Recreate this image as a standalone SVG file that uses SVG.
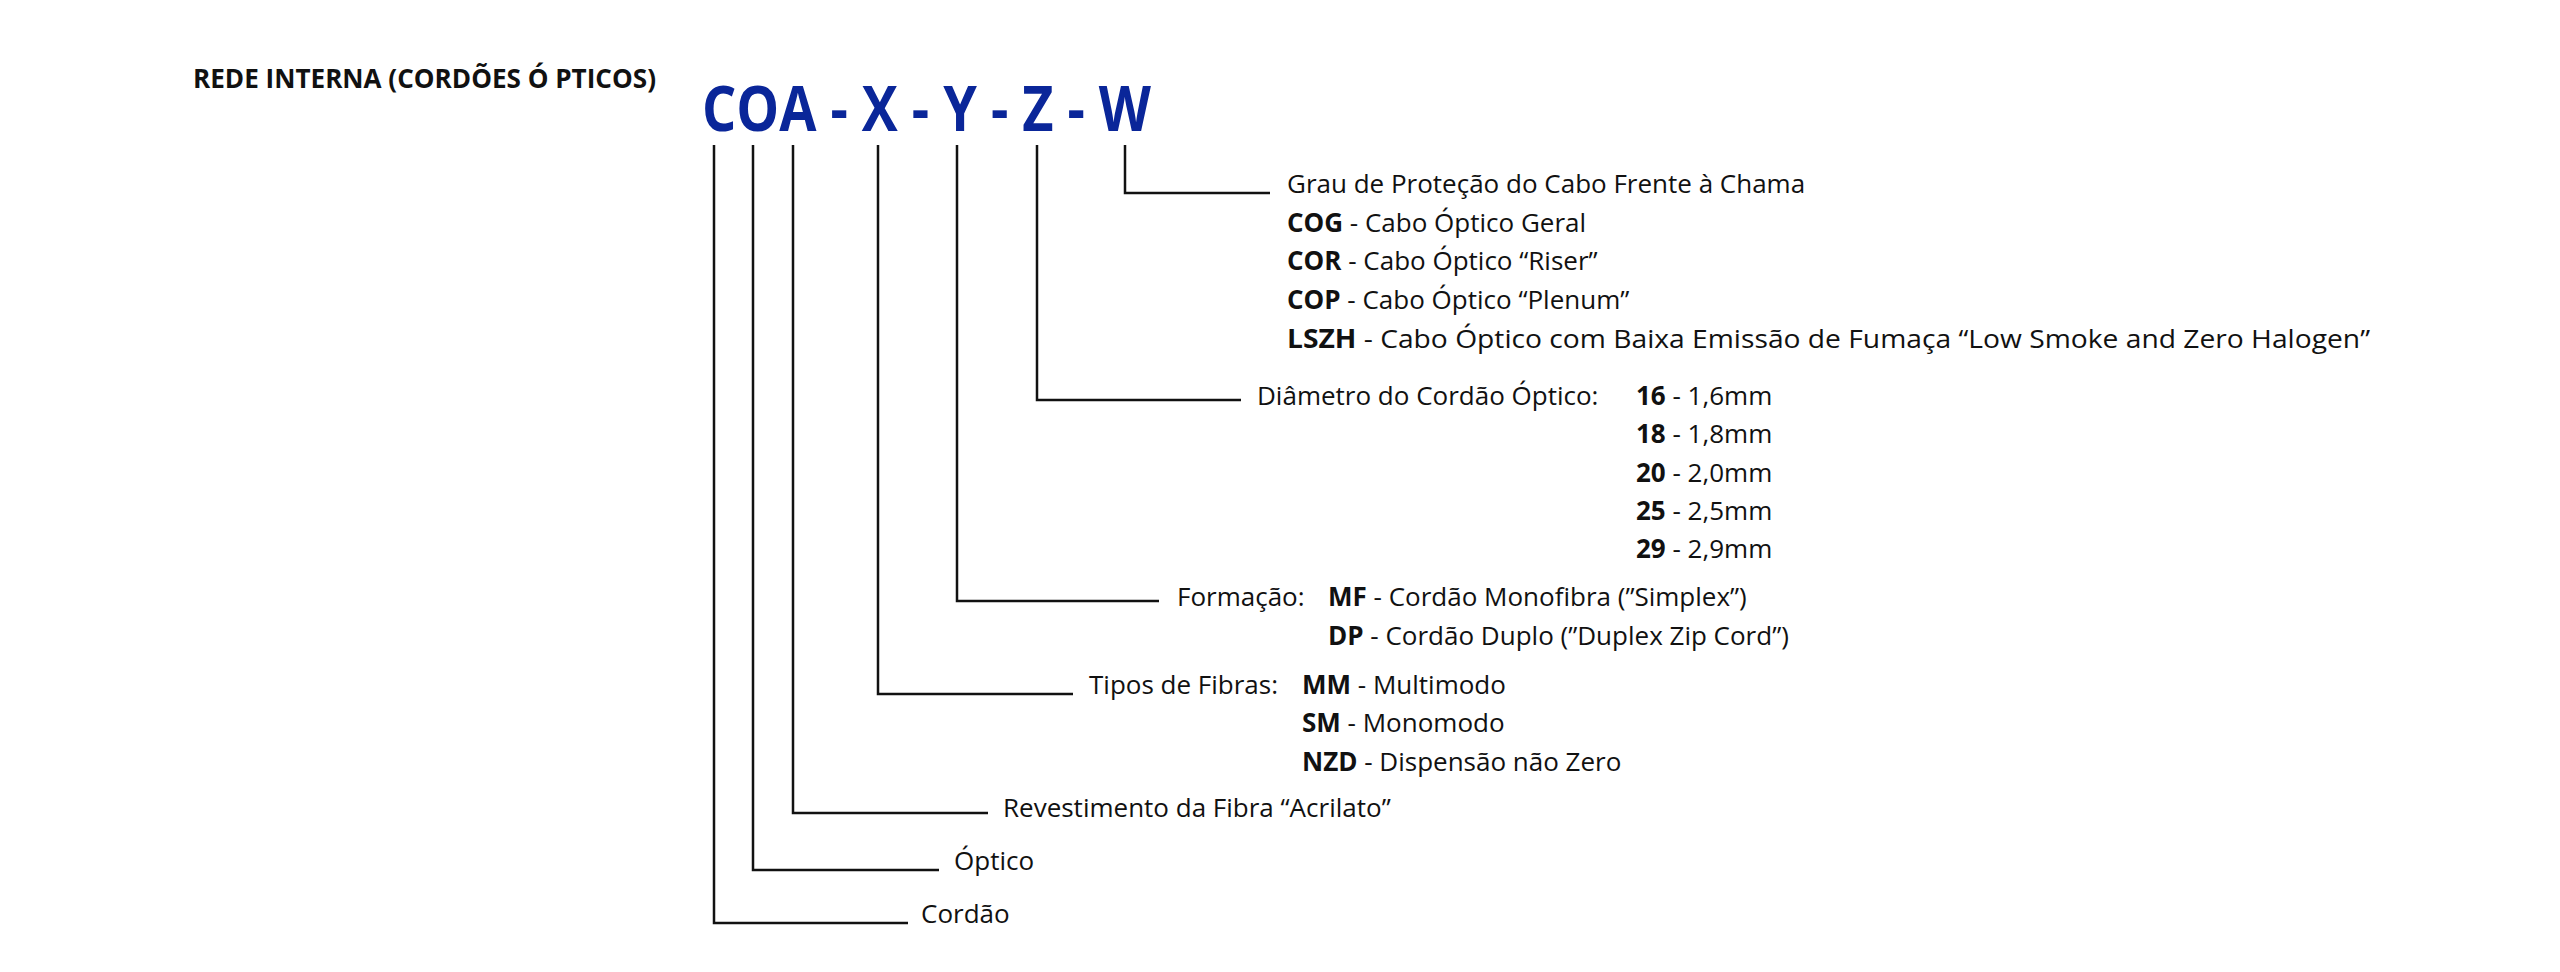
<svg xmlns="http://www.w3.org/2000/svg" width="2560" height="972" viewBox="0 0 2560 972">
<style>
text{font-family:"Open Sans","Liberation Sans",sans-serif;font-size:26px;fill:#111}
.b{font-weight:bold}
.t{font-weight:bold;font-size:26px}
.code{font-weight:bold;font-size:62px;fill:#0a2699}
#connectors path{fill:none;stroke:#111;stroke-width:2.5}
</style>
<rect width="2560" height="972" fill="#fff"/>
<g id="title"><text class="t" x="193" y="88" textLength="463" lengthAdjust="spacingAndGlyphs">REDE INTERNA (CORDÕES Ó PTICOS)</text></g>
<g id="code"><text class="code" x="702" y="131" textLength="449" lengthAdjust="spacingAndGlyphs">COA - X - Y - Z - W</text></g>
<g id="connectors">
<path d="M1125 145V193H1270"/>
<path d="M1037 145V400H1241"/>
<path d="M957 145V601H1159"/>
<path d="M878 145V694H1073"/>
<path d="M793 145V813H988"/>
<path d="M753 145V870H939"/>
<path d="M714 145V923H908"/>
</g>
<g id="w">
<text x="1287" y="193">Grau de Proteção do Cabo Frente à Chama</text>
<text x="1287" y="232"><tspan class="b">COG</tspan> - Cabo Óptico Geral</text>
<text x="1287" y="270"><tspan class="b">COR</tspan> - Cabo Óptico “Riser”</text>
<text x="1287" y="309"><tspan class="b">COP</tspan> - Cabo Óptico “Plenum”</text>
<text x="1287" y="348" textLength="1083" lengthAdjust="spacingAndGlyphs"><tspan class="b">LSZH</tspan> - Cabo Óptico com Baixa Emissão de Fumaça “Low Smoke and Zero Halogen”</text>
</g>
<g id="z">
<text x="1257" y="405">Diâmetro do Cordão Óptico:</text>
<text x="1636" y="405"><tspan class="b">16</tspan> - 1,6mm</text>
<text x="1636" y="443"><tspan class="b">18</tspan> - 1,8mm</text>
<text x="1636" y="482"><tspan class="b">20</tspan> - 2,0mm</text>
<text x="1636" y="520"><tspan class="b">25</tspan> - 2,5mm</text>
<text x="1636" y="558"><tspan class="b">29</tspan> - 2,9mm</text>
</g>
<g id="y">
<text x="1177" y="606">Formação:</text>
<text x="1328" y="606"><tspan class="b">MF</tspan> - Cordão Monofibra (”Simplex”)</text>
<text x="1328" y="645"><tspan class="b">DP</tspan> - Cordão Duplo (”Duplex Zip Cord”)</text>
</g>
<g id="x">
<text x="1089" y="694">Tipos de Fibras:</text>
<text x="1302" y="694"><tspan class="b">MM</tspan> - Multimodo</text>
<text x="1302" y="732"><tspan class="b">SM</tspan> - Monomodo</text>
<text x="1302" y="771"><tspan class="b">NZD</tspan> - Dispensão não Zero</text>
</g>
<g id="a"><text x="1003" y="817">Revestimento da Fibra “Acrilato”</text></g>
<g id="o"><text x="954" y="870">Óptico</text></g>
<g id="c"><text x="921" y="923">Cordão</text></g>
</svg>
